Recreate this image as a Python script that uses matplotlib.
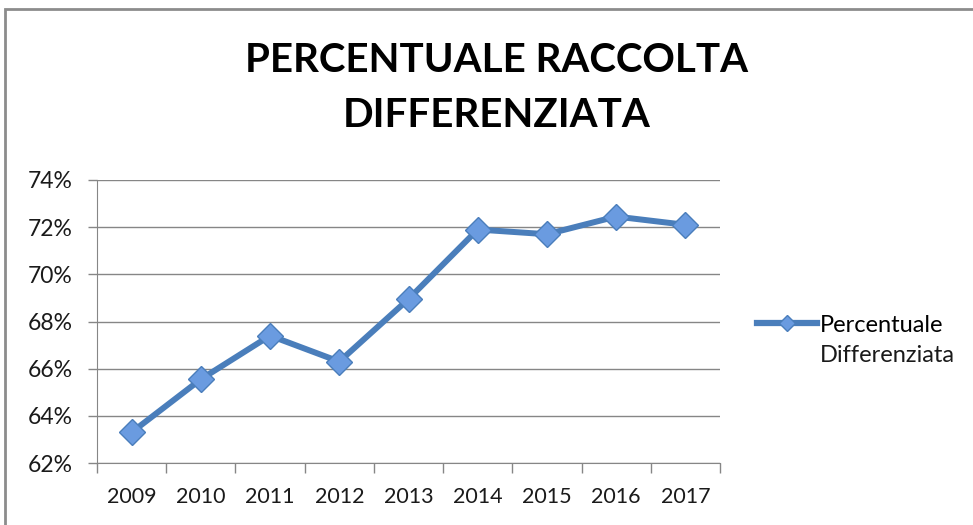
import numpy as np
import matplotlib.pyplot as plt
from matplotlib.patches import Rectangle

anni = ["2009", "2010", "2011", "2012", "2013", "2014", "2015", "2016", "2017"]
percentuale = [63.3, 65.55, 67.4, 66.3, 68.95, 71.9, 71.7, 72.45, 72.1]
y_ticks = [62, 64, 66, 68, 70, 72, 74]

W, H = 973, 525
fig = plt.figure(figsize=(W / 100, H / 100), dpi=100)
plt.rcParams['font.family'] = ['Lato', 'DejaVu Sans']

# cornice del grafico (tagliata a destra e in basso)
fig.patches.append(Rectangle((5 / W, -0.1), 1.1, 1 - 9 / H + 0.1, transform=fig.transFigure,
                             fill=False, edgecolor="#8c8c8c", linewidth=2))

ax = fig.add_axes([97 / W, 1 - 463 / H, (720 - 97) / W, (463 - 180) / H])
x = np.arange(len(anni))
ax.plot(x, percentuale, color="#4a7ebb", linewidth=4.3, marker="D", markersize=13,
        markerfacecolor="#6a9be0", markeredgecolor="#4a7ebb", markeredgewidth=1,
        label="Percentuale", zorder=3)

ax.set_xlim(-0.5, len(anni) - 0.5)
ax.set_ylim(62, 74)
ax.set_yticks(y_ticks)
ax.set_yticklabels([f"{v}%" for v in y_ticks])
ax.set_xticks(x)
ax.set_xticklabels(anni)
ax.set_xticks(np.arange(-0.5, len(anni)), minor=True)
ax.tick_params(axis="x", which="major", length=0, pad=17, labelsize=15.5, colors="#1a1a1a")
ax.tick_params(axis="x", which="minor", length=7, color="#868686", width=1)
ax.tick_params(axis="y", length=6.5, color="#868686", width=1, pad=11, labelsize=16.5, colors="#1a1a1a")
ax.grid(axis="y", color="#868686", linewidth=1)
for s in ["top", "right"]:
    ax.spines[s].set_visible(False)
for s in ["left", "bottom"]:
    ax.spines[s].set_color("#868686")
ax.set_axisbelow(True)

fig.text(497 / W, 1 - 88 / H, "PERCENTUALE RACCOLTA\nDIFFERENZIATA", ha="center", va="center",
         fontsize=29, fontweight="bold", linespacing=1.62, color="black")

leg = fig.legend(loc="center left", bbox_to_anchor=(757 / W, 1 - 325 / H), frameon=False, fontsize=17,
                 handlelength=2.55, handletextpad=0.1, markerscale=0.65, borderpad=0, borderaxespad=0)
leg.get_lines()[0].set_linewidth(4.5)
fig.text(820 / W, 1 - 355 / H, "Differenziata", ha="left", va="center", fontsize=17, color="#1a1a1a")

fig.savefig("out.png", dpi=100)
